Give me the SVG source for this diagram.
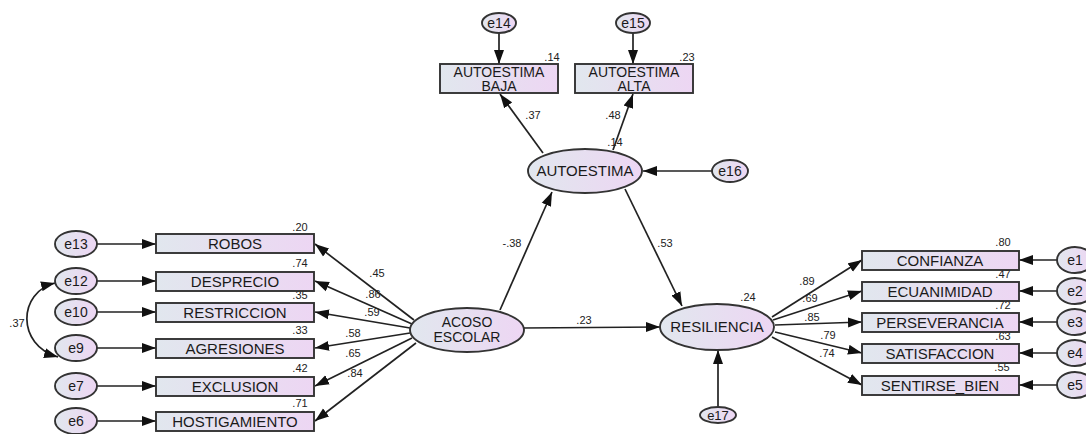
<svg xmlns="http://www.w3.org/2000/svg" width="1086" height="434" viewBox="0 0 1086 434">
<defs>
<linearGradient id="g" x1="0" y1="0" x2="1" y2="0">
<stop offset="0" stop-color="#e1e7ee"/>
<stop offset="1" stop-color="#edd6f3"/>
</linearGradient>
<marker id="ah" markerUnits="userSpaceOnUse" markerWidth="15" markerHeight="11" refX="14" refY="5.5" orient="auto-start-reverse">
<path d="M0,0.5 L14,5.5 L0,10.5 z" fill="#111"/>
</marker>
<style>
.n rect, .n ellipse { fill: url(#g); stroke: #333; stroke-width: 1.9; }
.t { font-family: "Liberation Sans", Arial, sans-serif; font-size: 15px; fill: #1a1a1a; text-anchor: middle; }
.e { font-size: 14px; }
.s { font-family: "Liberation Sans", Arial, sans-serif; font-size: 11px; fill: #222; text-anchor: middle; }
.c line, .c path { stroke: #222; stroke-width: 1.7; fill: none; marker-end: url(#ah); }
</style>
</defs>
<rect width="1086" height="434" fill="#fff"/>

<g class="c" id="connectors">
<line x1="499" y1="33" x2="499" y2="64"/>
<line x1="633" y1="33" x2="633" y2="64"/>
<line x1="543" y1="153" x2="500" y2="94"/>
<line x1="613" y1="150" x2="633" y2="94"/>
<line x1="712" y1="171" x2="643" y2="171"/>
<line x1="500" y1="310" x2="552" y2="192"/>
<line x1="625" y1="189" x2="682" y2="306"/>
<line x1="523" y1="328" x2="660" y2="327"/>
<line x1="718" y1="407" x2="718" y2="350"/>
<line x1="97" y1="244" x2="156" y2="244"/>
<line x1="97" y1="281" x2="156" y2="281"/>
<line x1="97" y1="312" x2="156" y2="312"/>
<line x1="97" y1="348" x2="156" y2="348"/>
<line x1="97" y1="386" x2="156" y2="386"/>
<line x1="97" y1="421" x2="156" y2="421"/>
<line x1="414" y1="320" x2="315" y2="244"/>
<line x1="412" y1="324" x2="315" y2="281"/>
<line x1="410" y1="328" x2="315" y2="312"/>
<line x1="410" y1="333" x2="315" y2="348"/>
<line x1="412" y1="338" x2="315" y2="386"/>
<line x1="416" y1="343" x2="315" y2="421"/>
<line x1="772" y1="317" x2="862" y2="260"/>
<line x1="773" y1="320" x2="862" y2="291"/>
<line x1="775" y1="325" x2="862" y2="322"/>
<line x1="775" y1="332" x2="862" y2="353"/>
<line x1="772" y1="337" x2="862" y2="385"/>
<line x1="1057" y1="260" x2="1019" y2="260"/>
<line x1="1057" y1="291" x2="1019" y2="291"/>
<line x1="1057" y1="322" x2="1019" y2="322"/>
<line x1="1057" y1="353" x2="1019" y2="353"/>
<line x1="1057" y1="385" x2="1019" y2="385"/>
<path d="M 55,283 C 18,292 16,345 58,357" style="marker-start:url(#ah)"/>
</g>

<g id="labels">
<text class="s" x="552" y="61">.14</text>
<text class="s" x="687" y="61">.23</text>
<text class="s" x="533" y="119">.37</text>
<text class="s" x="613" y="119">.48</text>
<text class="s" x="615" y="146">.14</text>
<text class="s" x="512" y="247">-.38</text>
<text class="s" x="665" y="247">.53</text>
<text class="s" x="584" y="324">.23</text>
<text class="s" x="748" y="301">.24</text>
<text class="s" x="300" y="231">.20</text>
<text class="s" x="300" y="267">.74</text>
<text class="s" x="300" y="299">.35</text>
<text class="s" x="300" y="334">.33</text>
<text class="s" x="300" y="372">.42</text>
<text class="s" x="300" y="407">.71</text>
<text class="s" x="17" y="327">.37</text>
<text class="s" x="377" y="277">.45</text>
<text class="s" x="373" y="298">.86</text>
<text class="s" x="372" y="316">.59</text>
<text class="s" x="353" y="337">.58</text>
<text class="s" x="353" y="357">.65</text>
<text class="s" x="355" y="377">.84</text>
<text class="s" x="1003" y="246">.80</text>
<text class="s" x="1003" y="278">.47</text>
<text class="s" x="1003" y="309">.72</text>
<text class="s" x="1003" y="340">.63</text>
<text class="s" x="1002" y="371">.55</text>
<text class="s" x="807" y="285">.89</text>
<text class="s" x="810" y="302">.69</text>
<text class="s" x="812" y="321">.85</text>
<text class="s" x="828" y="339">.79</text>
<text class="s" x="827" y="357">.74</text>
</g>

<g class="n" id="e14"><ellipse cx="499" cy="23" rx="17" ry="10"/><text class="t e" x="499" y="28">e14</text></g>
<g class="n" id="e15"><ellipse cx="633" cy="23" rx="17" ry="10"/><text class="t e" x="633" y="28">e15</text></g>
<g class="n" id="autoestima_baja"><rect x="440" y="64" width="118" height="29"/><text class="t" x="499" y="77" style="font-size:14px">AUTOESTIMA</text><text class="t" x="499" y="91" style="font-size:14px">BAJA</text></g>
<g class="n" id="autoestima_alta"><rect x="575" y="64" width="118" height="29"/><text class="t" x="634" y="77" style="font-size:14px">AUTOESTIMA</text><text class="t" x="634" y="91" style="font-size:14px">ALTA</text></g>
<g class="n" id="autoestima"><ellipse cx="585" cy="171" rx="57" ry="22"/><text class="t" x="585" y="176">AUTOESTIMA</text></g>
<g class="n" id="e16"><ellipse cx="730" cy="171" rx="18" ry="11"/><text class="t e" x="730" y="176">e16</text></g>
<g class="n" id="acoso"><ellipse cx="467" cy="330" rx="57" ry="22"/><text class="t" x="467" y="327" style="font-size:14px">ACOSO</text><text class="t" x="467" y="342" style="font-size:14px">ESCOLAR</text></g>
<g class="n" id="resiliencia"><ellipse cx="717" cy="327" rx="57" ry="23"/><text class="t" x="717" y="332">RESILIENCIA</text></g>
<g class="n" id="e17"><ellipse cx="718" cy="415" rx="18" ry="8"/><text class="t" x="718" y="419.5" style="font-size:13px">e17</text></g>

<g class="n" id="e13"><ellipse cx="76" cy="244" rx="21" ry="13"/><text class="t e" x="76" y="249">e13</text></g>
<g class="n" id="e12"><ellipse cx="76" cy="281" rx="21" ry="13"/><text class="t e" x="76" y="286">e12</text></g>
<g class="n" id="e10"><ellipse cx="76" cy="312" rx="21" ry="13"/><text class="t e" x="76" y="317">e10</text></g>
<g class="n" id="e9"><ellipse cx="76" cy="348" rx="21" ry="13"/><text class="t e" x="76" y="353">e9</text></g>
<g class="n" id="e7"><ellipse cx="76" cy="386" rx="21" ry="13"/><text class="t e" x="76" y="391">e7</text></g>
<g class="n" id="e6"><ellipse cx="76" cy="421" rx="21" ry="13"/><text class="t e" x="76" y="426">e6</text></g>

<g class="n" id="robos"><rect x="156" y="234" width="158" height="19"/><text class="t" x="235" y="249">ROBOS</text></g>
<g class="n" id="desprecio"><rect x="156" y="272" width="158" height="19"/><text class="t" x="235" y="287">DESPRECIO</text></g>
<g class="n" id="restriccion"><rect x="156" y="303" width="158" height="19"/><text class="t" x="235" y="318">RESTRICCION</text></g>
<g class="n" id="agresiones"><rect x="156" y="339" width="158" height="19"/><text class="t" x="235" y="354">AGRESIONES</text></g>
<g class="n" id="exclusion"><rect x="156" y="377" width="158" height="19"/><text class="t" x="235" y="392">EXCLUSION</text></g>
<g class="n" id="hostigamiento"><rect x="156" y="412" width="158" height="19"/><text class="t" x="235" y="427">HOSTIGAMIENTO</text></g>

<g class="n" id="confianza"><rect x="862" y="251" width="157" height="19"/><text class="t" x="940" y="266">CONFIANZA</text></g>
<g class="n" id="ecuanimidad"><rect x="862" y="282" width="157" height="19"/><text class="t" x="940" y="297">ECUANIMIDAD</text></g>
<g class="n" id="perseverancia"><rect x="862" y="313" width="157" height="19"/><text class="t" x="940" y="328">PERSEVERANCIA</text></g>
<g class="n" id="satisfaccion"><rect x="862" y="344" width="157" height="19"/><text class="t" x="940" y="359">SATISFACCION</text></g>
<g class="n" id="sentirse_bien"><rect x="862" y="376" width="157" height="19"/><text class="t" x="940" y="391">SENTIRSE_BIEN</text></g>

<g class="n" id="e1"><ellipse cx="1075" cy="260" rx="18" ry="13"/><text class="t e" x="1075" y="265">e1</text></g>
<g class="n" id="e2"><ellipse cx="1075" cy="291" rx="18" ry="13"/><text class="t e" x="1075" y="296">e2</text></g>
<g class="n" id="e3"><ellipse cx="1075" cy="322" rx="18" ry="13"/><text class="t e" x="1075" y="327">e3</text></g>
<g class="n" id="e4"><ellipse cx="1075" cy="353" rx="18" ry="13"/><text class="t e" x="1075" y="358">e4</text></g>
<g class="n" id="e5"><ellipse cx="1075" cy="385" rx="18" ry="13"/><text class="t e" x="1075" y="390">e5</text></g>
</svg>
